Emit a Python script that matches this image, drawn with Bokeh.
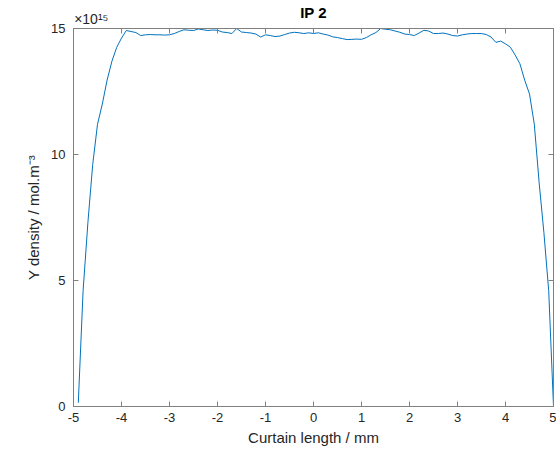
from bokeh.plotting import figure
from bokeh.models import LinearAxis, FixedTicker, Range1d
from bokeh.embed import file_html
from bokeh.resources import INLINE

# Curtain position (mm)
curtain_mm = [-4.9, -4.8, -4.7, -4.6, -4.5, -4.4, -4.3, -4.2, -4.1, -4.0,
              -3.9, -3.8, -3.7, -3.6, -3.5, -3.4, -3.3, -3.2, -3.1, -3.0,
              -2.9, -2.8, -2.7, -2.6, -2.5, -2.4, -2.3, -2.2, -2.1, -2.0,
              -1.9, -1.8, -1.7, -1.6, -1.5, -1.4, -1.3, -1.2, -1.1, -1.0,
              -0.9, -0.8, -0.7, -0.6, -0.5, -0.4, -0.3, -0.2, -0.1, 0.0,
              0.1, 0.2, 0.3, 0.4, 0.5, 0.6, 0.7, 0.8, 0.9, 1.0,
              1.1, 1.2, 1.3, 1.4, 1.5, 1.6, 1.7, 1.8, 1.9, 2.0,
              2.1, 2.2, 2.3, 2.4, 2.5, 2.6, 2.7, 2.8, 2.9, 3.0,
              3.1, 3.2, 3.3, 3.4, 3.5, 3.6, 3.7, 3.8, 3.9, 4.0,
              4.1, 4.2, 4.3, 4.4, 4.5, 4.6, 4.7, 4.8, 4.9, 5.0]

# Y density in units of 1e15 mol.m^-3
density_e15 = [0.15, 4.6, 7.3, 9.6, 11.2, 12.0, 12.95, 13.7, 14.25, 14.62,
               14.92, 14.88, 14.84, 14.72, 14.75, 14.76, 14.75, 14.75, 14.74, 14.75,
               14.80, 14.88, 14.95, 14.93, 14.92, 14.98, 14.95, 14.92, 14.94, 14.93,
               14.86, 14.84, 14.80, 15.0, 14.86, 14.84, 14.82, 14.78, 14.66, 14.75,
               14.72, 14.68, 14.70, 14.76, 14.82, 14.85, 14.83, 14.80, 14.83, 14.80,
               14.83, 14.78, 14.74, 14.67, 14.64, 14.60, 14.56, 14.57, 14.58, 14.57,
               14.64, 14.75, 14.84, 15.0, 14.97, 14.95, 14.90, 14.85, 14.78, 14.76,
               14.72, 14.82, 14.93, 14.90, 14.80, 14.80, 14.82, 14.78, 14.72, 14.70,
               14.75, 14.78, 14.80, 14.80, 14.80, 14.76, 14.66, 14.45, 14.50, 14.39,
               14.26, 13.95, 13.60, 12.95, 12.40, 11.20, 8.90, 6.90, 4.60, 0.0]

x_ticks = [-5, -4, -3, -2, -1, 0, 1, 2, 3, 4, 5]
y_ticks = [0, 5, 10, 15]
x_min, x_max = -5, 5
y_min, y_max = 0, 15
title_text = "IP 2"
exponent_text = "×10¹⁵"
exponent_anchor_x = -4.63   # where the (centred) multiplier label sits along the top edge

TEXT = "#262626"
AXIS = "#808080"
FONT = "Liberation Sans"

p = figure(width=556, height=452, x_range=Range1d(x_min, x_max), y_range=Range1d(y_min, y_max),
           title=None, output_backend="svg", toolbar_location=None,
           min_border_left=73, min_border_right=3, min_border_top=28, min_border_bottom=46)

p.line(curtain_mm, density_e15, line_color="#0072BD", line_width=1)

p.grid.visible = False
p.outline_line_color = AXIS
p.background_fill_color = "white"
p.border_fill_color = "white"

for ax, ticks in ((p.xaxis[0], x_ticks), (p.yaxis[0], y_ticks)):
    ax.ticker = FixedTicker(ticks=ticks)
    ax.major_label_overrides = {t: str(t) for t in ticks}
    ax.major_tick_in = 5
    ax.major_tick_out = 0
    ax.minor_tick_line_color = None
    ax.axis_line_color = AXIS
    ax.major_tick_line_color = AXIS
    ax.major_label_text_font = FONT
    ax.major_label_text_font_size = "13px"
    ax.major_label_text_color = TEXT
    ax.axis_label_text_font = FONT
    ax.axis_label_text_font_size = "15px"
    ax.axis_label_text_font_style = "normal"
    ax.axis_label_text_color = TEXT

p.xaxis.axis_label = "Curtain length / mm"
p.xaxis.major_label_standoff = 6
p.xaxis.axis_label_standoff = 4
p.yaxis.axis_label = "Y density / mol.m⁻³"
p.yaxis.major_label_standoff = 8
p.yaxis.axis_label_standoff = 6

# top edge: inward ticks (as minor ticks), the x10^15 multiplier and the title
top = LinearAxis(ticker=FixedTicker(ticks=[exponent_anchor_x], minor_ticks=x_ticks),
                 major_label_overrides={exponent_anchor_x: exponent_text},
                 major_label_text_font=FONT, major_label_text_font_size="14px",
                 major_label_text_color=TEXT, major_label_standoff=2,
                 major_tick_in=0, major_tick_out=0, major_tick_line_color=None,
                 minor_tick_in=5, minor_tick_out=0, minor_tick_line_color=AXIS,
                 axis_line_color=AXIS,
                 axis_label=title_text, axis_label_text_font=FONT,
                 axis_label_text_font_size="15px", axis_label_text_font_style="bold",
                 axis_label_text_color="black", axis_label_standoff=-13)
p.add_layout(top, "above")

# right edge: inward ticks only
right = LinearAxis(ticker=FixedTicker(ticks=[], minor_ticks=y_ticks),
                   major_tick_in=0, major_tick_out=0, major_label_standoff=0,
                   minor_tick_in=5, minor_tick_out=0, minor_tick_line_color=AXIS,
                   axis_line_color=AXIS)
p.add_layout(right, "right")

open("out.html", "w").write(file_html(p, INLINE))
